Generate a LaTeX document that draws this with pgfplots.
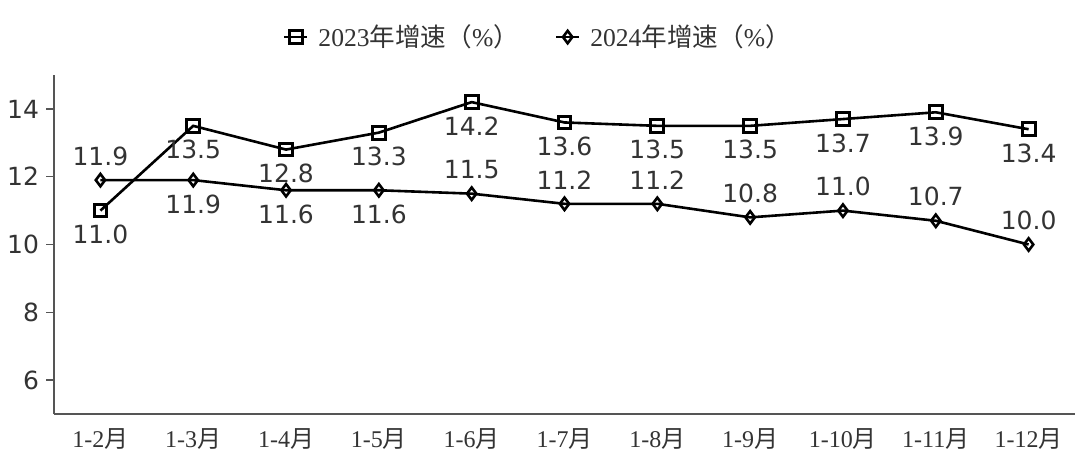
\documentclass[border=0pt]{standalone}
\usepackage{fontspec}
\setmainfont{Liberation Serif}
\newfontfamily\cjk{Noto Sans CJK SC}
\newfontfamily\dvs{DejaVu Sans}
\usepackage{pgfplots}
\usepackage{pgfplotstable}
\pgfplotsset{compat=1.18}
\definecolor{axgray}{HTML}{555555}
\definecolor{txtgray}{HTML}{333333}

\pgfplotstableread{
x y dy
0 11.0 -12
1 13.5 -12
2 12.8 -12
3 13.3 -12
4 14.2 -12
5 13.6 -12
6 13.5 -12
7 13.5 -12
8 13.7 -12
9 13.9 -12
10 13.4 -12
}\dataA

\pgfplotstableread{
x y dy
0 11.9 12
1 11.9 -12
2 11.6 -12
3 11.6 -12
4 11.5 12
5 11.2 12
6 11.2 12
7 10.8 12
8 11.0 12
9 10.7 12
10 10.0 12
}\dataB

\begin{document}
\begin{tikzpicture}
\begin{axis}[
  scale only axis,
  width=510.5pt, height=169.5pt,
  xmin=-0.5, xmax=10.5,
  ymin=5, ymax=15,
  axis x line=bottom, axis y line=left,
  axis line style={draw=axgray, line width=1pt, -},
  xtick={0,...,10},
  xticklabels={1-2{\cjk 月},1-3{\cjk 月},1-4{\cjk 月},1-5{\cjk 月},1-6{\cjk 月},1-7{\cjk 月},1-8{\cjk 月},1-9{\cjk 月},1-10{\cjk 月},1-11{\cjk 月},1-12{\cjk 月}},
  x tick style={draw=none},
  xticklabel style={font=\fontsize{12}{14}\selectfont, text=txtgray, yshift=0pt},
  ytick={6,8,10,12,14},
  y tick style={draw=axgray, line width=0.8pt},
  tick align=outside,
  major tick length=4pt,
  yticklabel style={font=\dvs\fontsize{12.5}{14}\selectfont, text=txtgray},
  /pgf/number format/assume math mode=true,
  clip=false,
  legend style={draw=none, fill=none, at={(0.475,1.112)}, anchor=center,
    font=\fontsize{12.8}{14}\selectfont, text=txtgray,
    /tikz/every odd column/.append style={column sep=3pt},
    /tikz/every even column/.append style={column sep=16pt}},
  legend columns=2,
  legend image code/.code={
    \draw[mark repeat=2,mark phase=2] plot coordinates {(0cm,0cm) (0.2cm,0cm) (0.4cm,0cm)};
  },
  nodes near coords,
  nodes near coords style={font=\dvs\fontsize{12.5}{14}\selectfont, text=txtgray,
    anchor=center, yshift={\dy*1pt},
    /pgf/number format/.cd, fixed, fixed zerofill, precision=1},
  visualization depends on={\thisrow{dy} \as \dy},
]
\addplot[black, line width=1.3pt, mark=square, mark size=3.2pt,
  mark options={fill=white, line width=1.5pt}] table[x=x,y=y] {\dataA};
\addlegendentry{2023{\cjk 年增速（}\%{\cjk ）}}
\addplot[black, line width=1.3pt, mark=diamond, mark size=3.1pt,
  mark options={fill=white, line width=1.3pt}] table[x=x,y=y] {\dataB};
\addlegendentry{2024{\cjk 年增速（}\%{\cjk ）}}
\end{axis}
\pgfresetboundingbox
\path[use as bounding box] (-27pt,-25.5pt) rectangle (512.5pt,207pt);
\end{tikzpicture}
\end{document}
